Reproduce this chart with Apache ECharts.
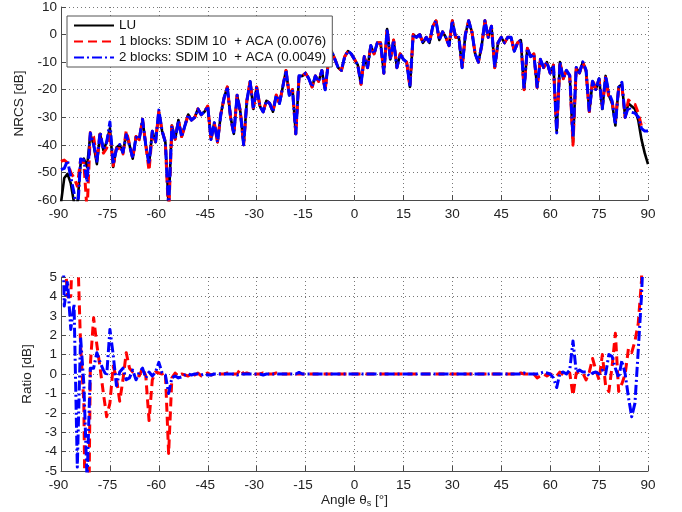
<!DOCTYPE html>
<html>
<head>
<meta charset="utf-8">
<script src="https://cdn.jsdelivr.net/npm/echarts@6/dist/echarts.min.js"></script>
<style>
  html, body { margin: 0; padding: 0; background: #fff; }
  #chart { width: 682px; height: 512px; }
</style>
</head>
<body>
<div id="chart"></div>
<script>
// Scattering angle grid (degrees): first sample and spacing
const angleStart = -90;
const angleStep = 1;

// Reference NRCS from the direct LU solve, one value per degree from -90 to 90 [dB]
const luDb = [
  -61, -52, -50.5, -54, -61, -62, -47, -45, -48, -36,
  -40, -47, -36, -42, -39, -34, -48, -41, -40, -43,
  -36, -40, -45, -37, -38, -31, -40, -47, -35, -39,
  -28, -35, -39, -62, -33, -38, -31, -37, -33, -29,
  -31, -30, -27, -29, -28, -26, -38, -32, -39, -29,
  -23, -19, -30, -36, -22, -28, -40, -24, -17, -27,
  -19, -26, -28, -24, -25, -28, -22, -25, -19, -13,
  -22, -20, -36, -15, -15, -14, -16, -19, -15, -17,
  -13, -20, -10, -6, -9, -12, -13, -8, -6, -7,
  -9, -11, -18, -8, -12, -4, -7, -3, -3, -14,
  2, -9, -2, -12, -7, -9, -10, -19, 0, -1,
  0, -3, -1, -3, 3, 5, -2, 1, -1, -4,
  5, -1, -1, -12, 0, 5, 1, -7, -10, -4,
  5, -1, 3, -12, -3, -1, -3, -1, -1, -6,
  -3, -2, -20, -5, -8, -7, -19, -9, -12, -10,
  -14, -11, -35, -10, -16, -13, -15, -39, -12, -14,
  -10, -13, -28, -17, -20, -16, -27, -15, -22, -25,
  -33, -19, -18, -30, -25, -26, -27, -31, -38, -43,
  -47
];

// Error of the 1-block SDIM + ACA solution relative to LU [dB]
const ratio1Db = [
  15, 6.5, 4, 4, 9, 7, 1.5, -1.5, -16, 0.5,
  2.9, 1.5, 0.3, -1, -2.2, -1.5, 0.4, -0.2, -1.4, -0.3,
  1.1, 0.3, 0.1, 0, -0.1, 0.3, -0.1, -2.4, -0.3, 0.1,
  0.05, 0, 0.1, -4.1, -0.2, 0.05, -0.1, 0, -0.05, -0.1,
  0, -0.05, 0.05, -0.1, 0, 0.05, -0.05, 0, 0.05, 0,
  0, 0.05, -0.05, 0, 0, 0.25, 0, 0.05, 0, -0.05,
  0, 0, 0.05, 0, 0, 0, 0.05, 0, 0, 0,
  0, 0.05, 0, 0, 0, 0, 0, 0, 0, 0,
  0, 0, 0, 0, 0, 0, 0, 0, 0, 0,
  0, 0, 0, 0, 0, 0, 0, 0, 0, 0,
  0, 0, 0, 0, 0, 0, 0, 0, 0, 0,
  0, 0, 0, 0, 0, 0, 0, 0, 0, 0,
  0, 0, 0, 0, 0, 0, 0, 0, 0, 0,
  0, 0, 0, 0, 0, 0, 0, 0, 0, 0,
  0, 0.05, 0, 0, 0, 0, -0.2, -0.1, 0, -0.1,
  0, -0.05, -0.1, 0.1, -0.05, 0.1, 0.05, -1.1, 0.05, 0.1,
  0.05, -0.3, 0.1, 0.8, 0.2, -0.3, 1.0, -0.6, -0.9, 0.4,
  2.1, -0.9, -0.5, 0, 1.3, 1.1, 1.7, 2.6, 4.8, 11,
  null
];

// Error of the 2-block SDIM + ACA solution relative to LU [dB]
const ratio2Db = [
  12, 3.5, 4.8, 2.3, 3.6, -4.8, 1.9, -0.5, -5.5, 0.3,
  0.3, 1.1, 0.6, 0.2, -0.1, 2.3, 1.0, -0.6, 0.1, 0.3,
  -0.3, -0.2, 0.2, -0.3, 0.1, 0.3, -0.2, 0.1, -0.1, 0.1,
  0.6, 0.05, -0.05, -1.0, -0.2, -0.1, -0.2, -0.15, -0.05, 0,
  -0.05, 0, 0, -0.05, 0, -0.05, -0.05, 0, 0, 0,
  0, 0, 0, 0, -0.05, 0, 0, 0, 0, 0,
  0, 0, -0.05, 0, 0, 0, 0, 0, 0, 0,
  0, 0, 0, 0.08, 0, 0, 0, 0, 0, 0,
  0, 0, 0, 0, 0, 0, 0, 0, 0, 0,
  0, 0, 0, 0, 0, 0, 0, 0, 0, 0,
  0, 0, 0, 0, 0, 0, 0, 0, 0, 0,
  0, 0, 0, 0, 0, 0, 0, 0, 0, 0,
  0, 0, 0, 0, 0, 0, 0, 0, 0, 0,
  0, 0, 0, 0, 0, 0, 0, 0, 0, 0,
  0, 0, 0.05, 0, 0, 0, 0, 0.05, 0.1, 0.05,
  0, -0.2, -0.7, 0.05, 0.1, 0, 0.2, 1.7, 0.1, 0.2,
  0.1, 0.1, -0.1, 0.05, 0.1, 0, 0.2, 0, 1.0, 0.9,
  0.3, -0.2, 0.7, 0, -1.2, -2.2, -1.5, 1.2, 4.0, 8,
  12
];

const seriesNames = [
  'LU',
  '1 blocks: SDIM 10  + ACA (0.0076)',
  '2 blocks: SDIM 10  + ACA (0.0049)'
];

// [angle, value] pairs for the value axes
const angleOf = i => angleStart + i * angleStep;
const pairs = arr => arr.map((v, i) => [angleOf(i), v]);
// Approximate solutions in dB = LU + ratio
const withRatio = ratio => luDb.map((v, i) => ratio[i] == null ? null : v + ratio[i]);

const FONT = '"Liberation Sans", Arial, sans-serif';
const LABEL_SIZE = 13.5;
const axisColor = '#4a4a4a';
const gridDots = { color: '#777', width: 1, type: [1, 3] };

// Negative tick labels keep their digits centred on the tick, the sign hangs to the left
const tickLabel = v => (v < 0 ? '{neg|' + v + '}' : '{pos|' + v + '}');

function xAxisFor(gridIndex, extra) {
  return Object.assign({
    type: 'value', gridIndex, min: -90, max: 90, interval: 15,
    axisLine: { show: true, onZero: false, lineStyle: { color: axisColor, width: 1 } },
    axisTick: { show: true, inside: true, length: 5, lineStyle: { color: axisColor } },
    axisLabel: {
      margin: 7, fontSize: LABEL_SIZE, color: '#222', fontFamily: FONT,
      formatter: tickLabel,
      rich: {
        neg: { fontSize: LABEL_SIZE, color: '#222', fontFamily: FONT, padding: [0, 5, 0, 0] },
        pos: { fontSize: LABEL_SIZE, color: '#222', fontFamily: FONT }
      }
    },
    splitLine: { show: true, lineStyle: gridDots }
  }, extra || {});
}
function yAxisFor(gridIndex, min, max, interval, name, nameGap) {
  return {
    type: 'value', gridIndex, min, max, interval,
    name, nameLocation: 'middle', nameGap, nameRotate: 90,
    nameTextStyle: { fontSize: 13.5, color: '#222', fontFamily: FONT },
    axisLine: { show: true, onZero: false, lineStyle: { color: axisColor, width: 1 } },
    axisTick: { show: true, inside: true, length: 5, lineStyle: { color: axisColor } },
    axisLabel: { margin: 4, fontSize: LABEL_SIZE, color: '#222', fontFamily: FONT },
    splitLine: { show: true, lineStyle: gridDots }
  };
}

const styleLU = { color: '#000000', width: 2.6, type: 'solid', join: 'round' };
const styleOne = { color: '#ff0000', width: 3, type: [9, 5], join: 'round' };
const styleTwo = { color: '#0000ff', width: 3, type: [10, 3, 2, 3], join: 'round' };

function lineSeries(name, data, style, axisIndex) {
  return {
    name, type: 'line', data,
    xAxisIndex: axisIndex, yAxisIndex: axisIndex,
    showSymbol: false, symbol: 'none', clip: true,
    lineStyle: style, itemStyle: { color: style.color },
    emphasis: { disabled: true }, animation: false
  };
}

const chart = echarts.init(document.getElementById('chart'), null, { renderer: 'canvas' });
chart.setOption({
  backgroundColor: '#ffffff',
  animation: false,
  textStyle: { fontFamily: FONT },
  grid: [
    { left: 61, right: 34, top: 7, height: 193 },
    { left: 61, right: 34, top: 277, height: 194 }
  ],
  xAxis: [
    xAxisFor(0),
    xAxisFor(1, {
      name: 'Angle θ{s|s} [°]', nameLocation: 'middle', nameGap: 18,
      nameTextStyle: {
        fontSize: 13.5, color: '#222', fontFamily: FONT,
        rich: { s: { fontSize: 9, fontFamily: FONT, color: '#222', padding: [7, 0, 0, 0] } }
      }
    })
  ],
  yAxis: [
    yAxisFor(0, -60, 10, 10, 'NRCS [dB]', 31),
    yAxisFor(1, -5, 5, 1, 'Ratio [dB]', 24)
  ],
  legend: {
    data: seriesNames,
    orient: 'vertical', left: 67, top: 16,
    padding: [3, 6, 3, 6], itemGap: 3,
    itemWidth: 40, itemHeight: 14, itemTextGap: 5,
    itemStyle: { opacity: 0 },
    backgroundColor: '#ffffff', borderColor: '#555', borderWidth: 1, borderRadius: 0,
    textStyle: { fontSize: 13.3, color: '#111', fontFamily: FONT },
    selectedMode: false
  },
  series: [
    lineSeries(seriesNames[0], pairs(luDb), styleLU, 0),
    lineSeries(seriesNames[1], pairs(withRatio(ratio1Db)), styleOne, 0),
    lineSeries(seriesNames[2], pairs(withRatio(ratio2Db)), styleTwo, 0),
    lineSeries('ratio1', pairs(ratio1Db), styleOne, 1),
    lineSeries('ratio2', pairs(ratio2Db), styleTwo, 1)
  ]
});
</script>
</body>
</html>
